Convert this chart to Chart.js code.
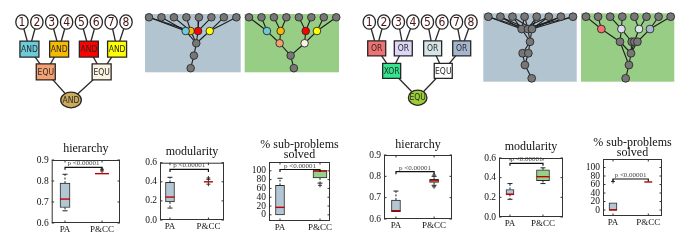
<!DOCTYPE html>
<html><head><meta charset="utf-8">
<script src="https://cdn.jsdelivr.net/npm/chart.js@4/dist/chart.umd.min.js"></script>
<style>
html,body{margin:0;padding:0;background:#fff}
body{width:680px;height:251px;position:relative;overflow:hidden}
canvas{position:absolute;left:0;top:0}
</style></head><body>
<script>
// ---------------- DATA ----------------
const groups = ['PA', 'P&CC'];
const titleHier = 'hierarchy';
const titleMod = 'modularity';
const titleSolved = ['% sub-problems', 'solved'];
const pValueText = 'p <0.00001';

const hierTicks = [0.6, 0.7, 0.8, 0.9];
const modTicks = [0.0, 0.2, 0.4, 0.6];
const solvedTicks = [0, 20, 40, 60, 80, 100];

// box stats: [low whisker, q1, median, q3, high whisker]
const andHierPA  = [0.658, 0.674, 0.714, 0.790, 0.832];
const andHierPCC = [0.835, 0.835, 0.835, 0.835, 0.835];
const andHierOut = [[], [0.848, 0.856]];
const andModPA   = [0.125, 0.19, 0.24, 0.395, 0.447];
const andModPCC  = [0.40, 0.40, 0.40, 0.40, 0.40];
const andModOut  = [[], [0.375, 0.425, 0.44]];
const andSolvedPA  = [0, 0, 17, 67, 83];
const andSolvedPCC = [72, 84, 100, 100, 100];
const andSolvedOut = [[], [67]];

const xorHierPA  = [0.634, 0.634, 0.639, 0.689, 0.731];
const xorHierPCC = [0.758, 0.771, 0.779, 0.786, 0.800];
const xorHierOut = [[], [0.751, 0.806]];
const xorModPA   = [0.18, 0.23, 0.23, 0.28, 0.34];
const xorModPCC  = [0.34, 0.37, 0.41, 0.48, 0.50];
const xorModOut  = [[], []];
const xorSolvedPA  = [0, 0, 0, 17, 17];
const xorSolvedPCC = [66, 66, 66, 66, 66];
const xorSolvedOut = [[67], []];

// significance bracket heights
const andBrackets = [0.865, 0.53, 103];
const xorBrackets = [0.822, 0.546, 73];

// task trees (x: leaf index, y: depth level)
const andTreeX = [1,2,3,4,5,6,7,8, 1.5,3.5,5.5,7.4, 2.6,6.36, 4.3];
const andTreeY = [0,0,0,0,0,0,0,0, 1.82,1.82,1.82,1.82, 3.36,3.36, 5.25];
const andTreeLabel = ['1','2','3','4','5','6','7','8','AND','AND','AND','AND','EQU','EQU','AND'];
const andTreeKind = ['leaf','leaf','leaf','leaf','leaf','leaf','leaf','leaf','box','box','box','box','box','box','oval'];
const andTreeColor = ['#fff','#fff','#fff','#fff','#fff','#fff','#fff','#fff','#6CCBD9','#F7BA00','#FF0000','#FFFF00','#F4A070','#FAF3E2','#CDA95A'];
const andTreeEdges = [[0,8],[1,8],[2,9],[3,9],[4,10],[5,10],[6,11],[7,11],[8,12],[9,12],[10,13],[11,13],[12,14],[13,14]];

const xorTreeX = [1,2,3,4,5,6,7,8, 1.51,3.34,5.36,7.36, 2.54,6.09, 4.33];
const xorTreeY = [0,0,0,0,0,0,0,0, 1.81,1.81,1.81,1.81, 3.37,3.37, 5.21];
const xorTreeLabel = ['1','2','3','4','5','6','7','8','OR','OR','OR','OR','XOR','EQU','EQU'];
const xorTreeKind = andTreeKind;
const xorTreeColor = ['#fff','#fff','#fff','#fff','#fff','#fff','#fff','#fff','#F07272','#DED6F6','#D6E6E6','#A6B6CE','#33E68E','#FFFFFF','#9ACD32'];
const xorTreeEdges = [[0,8],[1,8],[2,9],[3,9],[4,10],[5,10],[6,11],[7,11],[8,12],[9,12],[10,13],[11,13],[12,14],[13,14]];

// evolved networks
const G = '#777777';
const andPaX = [1,2,3,4,5,6,7,8, 4.34,3.94,4.93,5.87, 4.79,4.60,4.34];
const andPaY = [0,0,0,0,0,0,0,0, 1.1,1.1,1.1,1.1, 2.08,3.07,4.08];
const andPaCol = [G,G,G,G,G,G,G,G,'#F7BA00','#6CCBD9','#FF0000','#FFFF00',G,G,G];
const andPaEdges = [[0,9],[1,9],[2,8],[3,8],[4,10],[5,10],[6,11],[7,11],[0,8],[9,12],[8,12],[10,12],[11,12],[12,13],[13,14]];

const andPcX = [1,2,3,4,5,6,7,8, 2.44,3.54,5.55,6.45, 3.46,5.46, 4.34,4.60];
const andPcY = [0,0,0,0,0,0,0,0, 1.1,1.1,1.1,1.1, 2.08,2.08, 3.07,4.08];
const andPcCol = [G,G,G,G,G,G,G,G,'#6CCBD9','#F7BA00','#FF0000','#FFFF00','#F4A070','#FAF3E2',G,G];
const andPcEdges = [[0,8],[1,8],[2,9],[3,9],[4,10],[5,10],[6,11],[7,11],[8,12],[9,12],[10,13],[11,13],[12,14],[13,14],[14,15]];

const xorPaX = [1,2,3,4,5,6,7,8, 3.76,4.28,4.61, 4.45, 3.84,4.31, 4.03, 4.59];
const xorPaY = [0,0,0,0,0,0,0,0, 1.02,1.02,1.02, 2.07, 3.02,3.02, 3.99, 5.09];
const xorPaCol = [G,G,G,G,G,G,G,G,G,G,G,G,G,G,G,G];
const xorPaEdges = [[0,8],[0,9],[1,8],[1,9],[2,8],[2,10],[3,8],[3,9],[4,9],[4,10],[5,8],[5,10],[6,9],[6,10],[7,8],[7,10],
                    [8,11],[9,11],[10,11],[11,12],[11,13],[12,14],[13,14],[14,15]];

const xorPcX = [1,2,3,4,5,6,7,8, 2.27,3.93,5.38,6.29, 3.81,4.78,5.00,5.25, 4.72, 4.55, 4.28];
const xorPcY = [0,0,0,0,0,0,0,0, 1.02,1.02,1.02,1.02, 2.07,2.07,2.07,2.07, 3.02, 3.99, 5.09];
const xorPcCol = [G,G,G,G,G,G,G,G,'#F07272','#E2DAF8','#DAEAEA','#AABAD2',G,G,G,G,G,G,G];
const xorPcEdges = [[0,8],[1,8],[2,9],[3,9],[4,10],[5,10],[6,11],[7,11],[8,12],[9,12],[9,13],[10,14],[11,15],
                    [12,16],[13,16],[14,16],[15,16],[12,17],[16,17],[17,18]];

// ---------------- RENDERING ----------------
const W = 680, H = 251;
function addCanvas() {
  const c = document.createElement('canvas');
  c.width = W; c.height = H;
  c.style.width = W + 'px'; c.style.height = H + 'px';
  document.body.appendChild(c);
  return c;
}
const baseOpts = () => ({
  responsive: false, animation: false, devicePixelRatio: 1, events: [],
  plugins: { legend: { display: false }, tooltip: { enabled: false }, title: { display: false } }
});
const SERIF = '"Liberation Serif", "DejaVu Serif", serif';
const SANS_C = '"DejaVu Sans Condensed", "Liberation Sans Narrow", "DejaVu Sans", sans-serif';

function edgeSets(xs, ys, edges, color, width) {
  return edges.map(([a, b]) => ({
    data: [{x: xs[a], y: ys[a]}, {x: xs[b], y: ys[b]}],
    showLine: true, pointRadius: 0, borderColor: color, borderWidth: width, clip: false, order: 1
  }));
}

function makeTree(rect, xr, yr, xs, ys, labels, kinds, colors, edges, sz) {
  const opts = baseOpts();
  opts.layout = { padding: { left: rect[0], top: rect[1], right: W - rect[2], bottom: H - rect[3] } };
  opts.scales = {
    x: { type: 'linear', display: false, min: xr[0], max: xr[1] },
    y: { type: 'linear', display: false, min: yr[0], max: yr[1], reverse: true }
  };
  const shapes = {
    id: 'treeShapes',
    afterDatasetsDraw(chart) {
      const { ctx, scales: { x, y } } = chart;
      ctx.save();
      xs.forEach((v, i) => {
        const px = x.getPixelForValue(v), py = y.getPixelForValue(ys[i]);
        ctx.fillStyle = colors[i];
        ctx.strokeStyle = '#262626';
        ctx.lineWidth = 1.3;
        ctx.beginPath();
        if (kinds[i] === 'leaf') ctx.ellipse(px, py, 6.2, 7.2, 0, 0, Math.PI * 2);
        else if (kinds[i] === 'oval') ctx.ellipse(px, py, sz.ox, sz.oy, 0, 0, Math.PI * 2);
        else ctx.rect(px - sz.bw / 2, py - sz.bh / 2, sz.bw, sz.bh);
        ctx.fill(); ctx.stroke();
        ctx.textAlign = 'center'; ctx.textBaseline = 'middle';
        if (kinds[i] === 'leaf') { ctx.fillStyle = '#4a1414'; ctx.font = '12px ' + SANS_C; ctx.fillText(labels[i], px, py + 0.5); }
        else { ctx.fillStyle = '#2a2a2a'; ctx.font = '8.5px ' + SANS_C; ctx.fillText(labels[i], px, py + 0.5); }
      });
      ctx.restore();
    }
  };
  new Chart(addCanvas(), {
    type: 'scatter',
    data: { datasets: edgeSets(xs, ys, edges, '#2a2a2a', 1.3) },
    options: opts,
    plugins: [shapes]
  });
}

function makePanel(rect, xr, yr, bg, xs, ys, cols, edges, r) {
  const opts = baseOpts();
  opts.layout = { padding: { left: rect[0], top: rect[1], right: W - rect[2], bottom: H - rect[3] } };
  opts.scales = {
    x: { type: 'linear', display: false, min: xr[0], max: xr[1] },
    y: { type: 'linear', display: false, min: yr[0], max: yr[1], reverse: true }
  };
  const bgPlug = {
    id: 'panelBg',
    beforeDatasetsDraw(chart) {
      const { ctx, chartArea: a } = chart;
      ctx.save(); ctx.fillStyle = bg; ctx.fillRect(a.left, a.top, a.right - a.left, a.bottom - a.top); ctx.restore();
    }
  };
  const ds = edgeSets(xs, ys, edges, '#1c1c1c', 1.1);
  ds.unshift({
    data: xs.map((v, i) => ({x: v, y: ys[i]})),
    pointRadius: r, pointBackgroundColor: cols, pointBorderColor: '#2a2a2a', pointBorderWidth: 0.9,
    showLine: false, clip: false, order: 0
  });
  new Chart(addCanvas(), { type: 'scatter', data: { datasets: ds }, options: opts, plugins: [bgPlug] });
}

const PA_COL = '#B3C6D4', PCC_COL = '#96D08A';
const YW = 16, XH = 12;

function makeBox(frame, xr, yr, yTicks, fmt, title, titleTop, titlePad, pa, pcc, outliers, widths, bracketY) {
  const opts = baseOpts();
  opts.layout = { padding: { left: frame[0] - YW, top: titleTop, right: W - frame[1] - YW, bottom: H - frame[3] - XH } };
  opts.plugins.title = {
    display: true, text: title, fullSize: true, color: '#111',
    font: { family: SERIF, size: 12, weight: 'normal', lineHeight: '10px' },
    padding: { top: 0, bottom: titlePad }
  };
  opts.scales = {
    x: {
      type: 'linear', offset: false, min: xr[0], max: xr[1],
      grid: { display: false, drawTicks: false }, border: { display: false },
      ticks: { autoSkip: false, maxRotation: 0, padding: 1, color: '#111', font: { family: SERIF, size: 9 },
               callback: v => groups[Math.round(v) - 1] },
      afterBuildTicks: s => { s.ticks = groups.map((g, i) => ({ value: i + 1 })); },
      afterFit: s => { s.height = XH; }
    },
    y: {
      type: 'linear', min: yr[0], max: yr[1],
      grid: { display: false, drawTicks: false }, border: { display: false },
      ticks: { autoSkip: false, padding: 3, color: '#111', font: { family: SERIF, size: 9.5 }, callback: v => fmt(v) },
      afterBuildTicks: s => { s.ticks = yTicks.map(v => ({ value: v })); },
      afterFit: s => { s.width = YW; }
    },
    yRight: {
      type: 'linear', position: 'right', display: true,
      grid: { display: false, drawTicks: false }, border: { display: false },
      ticks: { display: false },
      afterFit: s => { s.width = YW; }
    }
  };
  const stats = [pa, pcc];
  const extras = {
    id: 'boxExtras',
    afterDatasetsDraw(chart) {
      const { ctx, chartArea: a, scales: { x, y } } = chart;
      const L = (x1, y1, x2, y2) => { ctx.beginPath(); ctx.moveTo(x1, y1); ctx.lineTo(x2, y2); ctx.stroke(); };
      ctx.save();
      stats.forEach((s, i) => {
        const cx = x.getPixelForValue(i + 1), w = widths[i];
        const [lo, q1, med, q3, hi] = s.map(v => y.getPixelForValue(v));
        ctx.strokeStyle = '#222'; ctx.lineWidth = 1;
        ctx.setLineDash([2, 1.6]);
        if (s[4] > s[3]) L(cx, q3, cx, hi);
        if (s[0] < s[1]) L(cx, q1, cx, lo);
        ctx.setLineDash([]);
        if (s[4] > s[3]) L(cx - 2.5, hi, cx + 2.5, hi);
        if (s[0] < s[1]) L(cx - 2.5, lo, cx + 2.5, lo);
        ctx.strokeStyle = '#C00000'; ctx.lineWidth = 1.4;
        L(cx - w / 2, med, cx + w / 2, med);
        ctx.strokeStyle = '#222'; ctx.lineWidth = 0.9;
        outliers[i].forEach(v => { const py = y.getPixelForValue(v); L(cx - 2, py, cx + 2, py); L(cx, py - 2, cx, py + 2); });
      });
      // significance bracket
      const x1 = x.getPixelForValue(1), x2 = x.getPixelForValue(2), by = y.getPixelForValue(bracketY);
      ctx.strokeStyle = '#111'; ctx.lineWidth = 1.2;
      ctx.beginPath(); ctx.moveTo(x1, by + 2.5); ctx.lineTo(x1, by); ctx.lineTo(x2, by); ctx.lineTo(x2, by + 2.5); ctx.stroke();
      ctx.fillStyle = '#444'; ctx.font = '7px ' + SERIF; ctx.textAlign = 'center'; ctx.textBaseline = 'bottom';
      ctx.fillText(pValueText, (x1 + x2) / 2, by - 0.3);
      // frame and inner ticks
      ctx.strokeStyle = '#333'; ctx.lineWidth = 1;
      ctx.strokeRect(a.left + 0.5, a.top + 0.5, a.right - a.left - 1, a.bottom - a.top - 1);
      y.ticks.forEach(t => { const py = y.getPixelForValue(t.value); L(a.left, py, a.left + 2.5, py); L(a.right, py, a.right - 2.5, py); });
      x.ticks.forEach(t => { const px = x.getPixelForValue(t.value); L(px, a.bottom, px, a.bottom - 2.5); L(px, a.top, px, a.top + 2.5); });
      ctx.restore();
    }
  };
  new Chart(addCanvas(), {
    type: 'bar',
    data: { datasets: [
      { data: [{ x: 1, y: [pa[1], pa[3]] }], backgroundColor: PA_COL, borderColor: '#2a2a2a', borderWidth: 1,
        borderSkipped: false, barThickness: widths[0], grouped: false, yAxisID: 'y' },
      { data: [{ x: 2, y: [pcc[1], pcc[3]] }], backgroundColor: PCC_COL, borderColor: '#2a2a2a', borderWidth: 1,
        borderSkipped: false, barThickness: widths[1], grouped: false, yAxisID: 'y' }
    ] },
    options: opts,
    plugins: [extras]
  });
}

const f1 = v => Number(v).toFixed(1), f0 = v => String(Math.round(v));

// trees
makeTree([22, 22, 126, 100], [1, 8], [0, 5.25], andTreeX, andTreeY, andTreeLabel, andTreeKind, andTreeColor, andTreeEdges,
         { bw: 19, bh: 16, ox: 10.3, oy: 7.8 });
makeTree([369.3, 22, 471, 97.7], [1, 8], [0, 5.21], xorTreeX, xorTreeY, xorTreeLabel, xorTreeKind, xorTreeColor, xorTreeEdges,
         { bw: 18, bh: 15, ox: 9.3, oy: 7.6 });

// networks
const BLUE_BG = '#B2C4CF', GREEN_BG = '#98CD86';
makePanel([145, 14, 240.7, 72.3], [0.68, 8.35], [-0.265, 4.41], BLUE_BG, andPaX, andPaY, andPaCol, andPaEdges, 3.8);
makePanel([244.7, 14, 339, 72.3], [0.655, 8.22], [-0.265, 4.41], GREEN_BG, andPcX, andPcY, andPcCol, andPcEdges, 3.8);
makePanel([483.3, 13.3, 576.7, 81.7], [0.587, 8.31], [-0.28, 5.37], BLUE_BG, xorPaX, xorPaY, xorPaCol, xorPaEdges, 3.9);
makePanel([581, 13.3, 674.3, 81.7], [0.587, 8.3], [-0.28, 5.37], GREEN_BG, xorPcX, xorPcY, xorPcCol, xorPcEdges, 3.9);

// box plots
makeBox([51.7, 120, 160, 223], [0.64, 2.486], [0.6, 0.9], hierTicks, f1, titleHier, 144, 6,
        andHierPA, andHierPCC, andHierOut, [10, 14], andBrackets[0]);
makeBox([160, 224, 162.7, 220], [0.74, 2.406], [0, 0.6], modTicks, f1, titleMod, 147, 5.7,
        andModPA, andModPCC, andModOut, [9, 9], andBrackets[1]);
makeBox([269, 330, 162, 221], [0.725, 2.25], [-14, 120], solvedTicks, f0, titleSolved, 140, 2,
        andSolvedPA, andSolvedPCC, andSolvedOut, [9, 14], andBrackets[2]);
makeBox([384, 452, 155, 219], [0.686, 2.47], [0.6, 0.9], hierTicks, f1, titleHier, 140, 5,
        xorHierPA, xorHierPCC, xorHierOut, [9, 9], xorBrackets[0]);
makeBox([499, 563, 158, 217], [0.667, 2.606], [0, 0.6], modTicks, f1, titleMod, 141.7, 6.3,
        xorModPA, xorModPCC, xorModOut, [8, 13], xorBrackets[1]);
makeBox([603, 662, 159, 216], [0.717, 2.388], [-14, 120], solvedTicks, f0, titleSolved, 137.7, 1.3,
        xorSolvedPA, xorSolvedPCC, xorSolvedOut, [8, 8], xorBrackets[2]);
</script>
</body></html>
